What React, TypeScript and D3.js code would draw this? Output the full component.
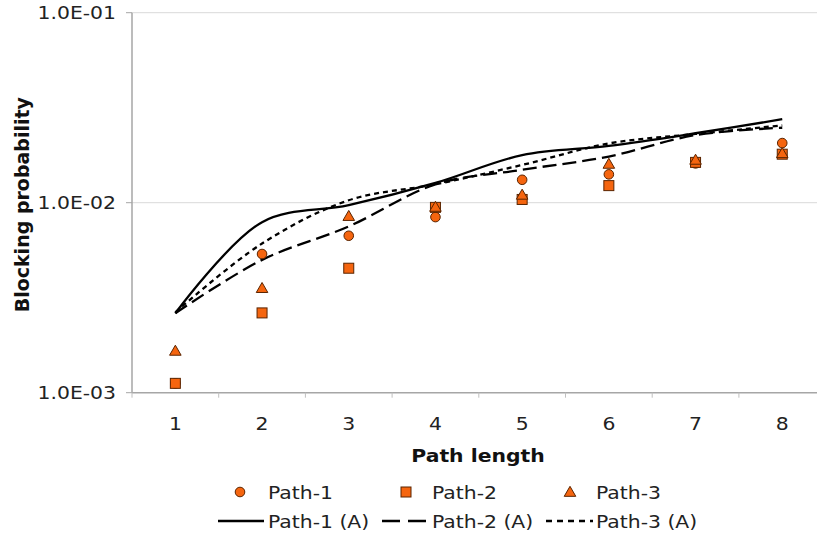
import React from 'react';
import * as d3 from 'd3';

// path length categories
const lengths = [1, 2, 3, 4, 5, 6, 7, 8];
// simulated blocking probability (markers)
const path1 = [0.00112, 0.00537, 0.0067, 0.0084, 0.0132, 0.0141, 0.0161, 0.0206];
const path2 = [0.00112, 0.00263, 0.00452, 0.00945, 0.0104, 0.0123, 0.0163, 0.018];
const path3 = [0.00166, 0.00355, 0.0085, 0.0095, 0.011, 0.016, 0.0168, 0.0182];
// analytical curves
const path1A = [0.00262, 0.0079, 0.0097, 0.0127, 0.0178, 0.0199, 0.0232, 0.0275];
const path2A = [0.00262, 0.005, 0.0075, 0.0125, 0.0149, 0.0175, 0.0227, 0.0248];
const path3A = [0.00265, 0.0061, 0.0103, 0.0125, 0.0158, 0.0205, 0.023, 0.0255];
const yTicks = [0.001, 0.01, 0.1];
const yTickLabels = ['1.0E-03', '1.0E-02', '1.0E-01'];

const FONT = '"DejaVu Sans", Verdana, sans-serif';
const ORANGE = '#f5650f';
const BROWN = '#5a2400';

// text slightly stretched horizontally, like the source picture
const Txt = ({ x, y, anchor = 'start', bold = false, children }: any) => (
  <text
    transform={`translate(${x},${y}) scale(1.1,1)`}
    dy="0.36em"
    textAnchor={anchor}
    fontFamily={FONT}
    fontSize={18.5}
    fontWeight={bold ? 'bold' : 'normal'}
    fill={bold ? '#111' : '#222'}
  >
    {children}
  </text>
);

const App = () => {
  const width = 817;
  const height = 539;
  const margin = { top: 12.7, left: 132, bottom: 146.3 };
  const step = 86.7;
  const plotH = height - margin.top - margin.bottom;

  const x = d3.scaleBand<number>()
    .domain(lengths)
    .range([margin.left, margin.left + step * lengths.length]);
  const cx = (d: number) => (x(d) as number) + x.bandwidth() / 2;
  const y = d3.scaleLog().domain([0.001, 0.1]).range([margin.top + plotH, margin.top]);

  const line = d3.line<number>()
    .x((_, i) => cx(lengths[i]))
    .y(d => y(d))
    .curve(d3.curveCatmullRom.alpha(0.5));

  const tri = d3.symbol().type(d3.symbolTriangle).size(58)() as string;

  const curves = [
    { data: path1A, dash: undefined },
    { data: path2A, dash: '14,6' },
    { data: path3A, dash: '5,4' },
  ];

  const circle = (px: number, py: number, k: string) => (
    <circle key={k} cx={px} cy={py} r={4.8} fill={ORANGE} stroke={BROWN} strokeWidth={1} />
  );
  const square = (px: number, py: number, k: string) => (
    <rect key={k} x={px - 5} y={py - 5} width={10} height={10} fill={ORANGE} stroke={BROWN} strokeWidth={1} />
  );
  const triangle = (px: number, py: number, k: string) => (
    <path key={k} d={tri} transform={`translate(${px},${py + 1})`} fill={ORANGE} stroke={BROWN} strokeWidth={1} />
  );

  const bottom = margin.top + plotH;

  return (
    <svg width={width} height={height} style={{ position: 'absolute', left: 0, top: 0, background: '#fff' }}>
      {/* gridlines */}
      {yTicks.slice(1).map(t => (
        <line key={t} x1={margin.left} x2={width} y1={y(t)} y2={y(t)} stroke="#d9d9d9" strokeWidth={1} />
      ))}
      {/* axes */}
      <line x1={margin.left} x2={margin.left} y1={margin.top} y2={bottom} stroke="#a6a6a6" strokeWidth={1.5} />
      <line x1={margin.left} x2={width} y1={bottom} y2={bottom} stroke="#a6a6a6" strokeWidth={1.5} />
      {yTicks.map((t, i) => (
        <g key={t}>
          <line x1={margin.left - 6} x2={margin.left} y1={y(t)} y2={y(t)} stroke="#a6a6a6" />
          <Txt x={116} y={y(t)} anchor="end">{yTickLabels[i]}</Txt>
        </g>
      ))}
      {lengths.map(l => (
        <g key={l}>
          <line x1={(x(l) as number)} x2={(x(l) as number)} y1={bottom} y2={bottom + 5} stroke="#c0c0c0" />
          <Txt x={cx(l)} y={423} anchor="middle">{l}</Txt>
        </g>
      ))}
      <line x1={margin.left + step * 8} x2={margin.left + step * 8} y1={bottom} y2={bottom + 5} stroke="#c0c0c0" />

      {/* axis titles */}
      <Txt x={478} y={455} anchor="middle" bold>Path length</Txt>
      <text transform={`translate(22,${(margin.top + bottom) / 2 + 2}) rotate(-90)`} dy="0.36em" textAnchor="middle" fontFamily={FONT} fontSize={19} fontWeight="bold" fill="#111">Blocking probability</text>

      {/* analytical curves */}
      {curves.map((c, i) => (
        <path key={i} d={line(c.data) as string} fill="none" stroke="#000" strokeWidth={2.3} strokeDasharray={c.dash} />
      ))}

      {/* markers */}
      {path1.map((v, i) => circle(cx(lengths[i]), y(v), 'c' + i))}
      {path2.map((v, i) => square(cx(lengths[i]), y(v), 's' + i))}
      {path3.map((v, i) => triangle(cx(lengths[i]), y(v), 't' + i))}

      {/* legend */}
      {circle(240, 492, 'lc')}
      <Txt x={268} y={492}>Path-1</Txt>
      {square(406, 492, 'ls')}
      <Txt x={432} y={492}>Path-2</Txt>
      {triangle(570, 492, 'lt')}
      <Txt x={596} y={492}>Path-3</Txt>

      <line x1={218} x2={264} y1={521} y2={521} stroke="#000" strokeWidth={2.3} />
      <Txt x={268} y={521}>Path-1 (A)</Txt>
      <line x1={382} x2={429} y1={521} y2={521} stroke="#000" strokeWidth={2.3} strokeDasharray="18,8" />
      <Txt x={432} y={521}>Path-2 (A)</Txt>
      <line x1={546} x2={593} y1={521} y2={521} stroke="#000" strokeWidth={2.3} strokeDasharray="6,5" />
      <Txt x={596} y={521}>Path-3 (A)</Txt>
    </svg>
  );
};

export default App;
